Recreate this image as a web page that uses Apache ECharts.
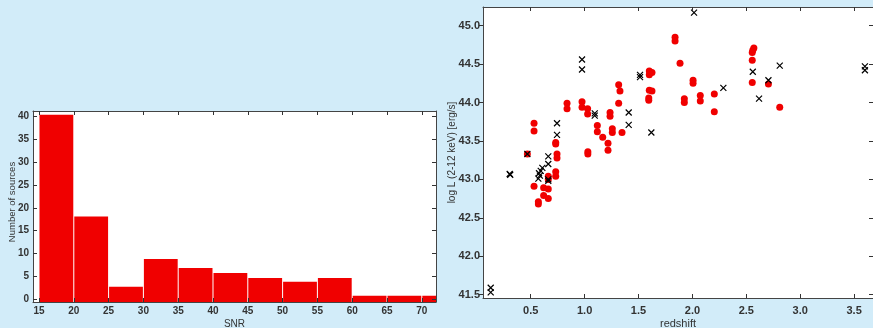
<!DOCTYPE html>
<html>
<head>
<meta charset="utf-8">
<script src="https://cdn.jsdelivr.net/npm/echarts@6/dist/echarts.min.js"></script>
<style>
  html, body { margin: 0; padding: 0; background: #d2ecf9; }
  #chart { width: 873px; height: 328px; }
</style>
</head>
<body>
<div id="chart"></div>
<script>
// histogram: SNR bins of width 5
const snrBinStart = [15, 20, 25, 30, 35, 40, 45, 50, 55, 60, 65, 70];
const snrBinWidth = 5;
const snrCounts = [40.4, 18.1, 2.7, 8.8, 6.8, 5.7, 4.6, 3.8, 4.6, 0.7, 0.7, 0.7];
const snrTicks = [15, 20, 25, 30, 35, 40, 45, 50, 55, 60, 65, 70];
const countTicks = [0, 5, 10, 15, 20, 25, 30, 35, 40];

// scatter: redshift vs log L
const redPoints = [
  [0.469, 43.33], [0.531, 43.73], [0.531, 43.63], [0.531, 42.91],
  [0.571, 42.71], [0.571, 42.68], [0.62, 42.89], [0.62, 42.79],
  [0.663, 42.875], [0.663, 42.75], [0.663, 43.04], [0.663, 43.0],
  [0.732, 43.10], [0.732, 43.04], [0.744, 43.33], [0.744, 43.28],
  [0.732, 43.48], [0.732, 43.46], [0.837, 43.99], [0.837, 43.92],
  [0.976, 44.01], [0.976, 43.94], [1.028, 43.92], [1.028, 43.85],
  [1.03, 43.36], [1.03, 43.33], [1.118, 43.70], [1.118, 43.62],
  [1.168, 43.55], [1.236, 43.87], [1.236, 43.82], [1.217, 43.47],
  [1.217, 43.38], [1.257, 43.66], [1.257, 43.61], [1.316, 44.23],
  [1.328, 44.15], [1.316, 43.99], [1.347, 43.61], [1.60, 44.41],
  [1.625, 44.39], [1.60, 44.36], [1.60, 44.16], [1.625, 44.15],
  [1.595, 44.06], [1.595, 44.03], [1.839, 44.85], [1.839, 44.80],
  [1.885, 44.51], [2.006, 44.29], [2.006, 44.25], [1.925, 44.05],
  [1.925, 44.0], [2.073, 44.09], [2.073, 44.02], [2.203, 44.11],
  [2.203, 43.88], [2.57, 44.71], [2.56, 44.68], [2.555, 44.65],
  [2.555, 44.55], [2.555, 44.26], [2.705, 44.24], [2.81, 43.94]
];
const crossPoints = [
  [0.129, 41.59], [0.129, 41.53], [0.305, 43.07], [0.31, 43.06],
  [0.469, 43.33], [0.571, 43.01], [0.577, 43.08], [0.593, 43.11],
  [0.608, 43.15], [0.585, 43.05], [0.663, 43.30], [0.663, 43.20],
  [0.663, 43.0], [0.663, 42.98], [0.744, 43.73], [0.744, 43.58],
  [0.976, 44.56], [0.976, 44.43], [1.094, 43.86], [1.094, 43.83],
  [1.409, 43.87], [1.409, 43.71], [1.514, 44.36], [1.514, 44.33],
  [1.619, 43.61], [2.015, 45.17], [2.287, 44.19], [2.56, 44.40],
  [2.618, 44.05], [2.705, 44.29], [2.81, 44.48], [3.60, 44.47],
  [3.60, 44.42]
];
const zTicks = [0.5, 1.0, 1.5, 2.0, 2.5, 3.0, 3.5];
const lumTicks = [41.5, 42.0, 42.5, 43.0, 43.5, 44.0, 44.5, 45.0];

const RED = "#f00000";
const FRAME = "#444";
const TXT = "#333";
const FONT = "Liberation Sans";

const histYMin = -0.66;

const labelStyle = {
  color: TXT,
  fontFamily: FONT,
  fontSize: 10,
  fontWeight: "bold"
};

function frameAxis(extra) {
  return Object.assign({
    type: "value",
    splitLine: {show: false},
    nameMoveOverlap: false,
    axisLine: {show: true, onZero: false, lineStyle: {color: FRAME, width: 1}},
    nameTextStyle: {color: TXT, fontFamily: FONT, fontSize: 10}
  }, extra);
}

const chart = echarts.init(document.getElementById("chart"));

chart.setOption({
  backgroundColor: "#d2ecf9",
  animation: false,
  grid: [
    {left: 33, top: 111, width: 403, height: 191, outerBoundsMode: "none",
      backgroundColor: "#fff", show: true, borderWidth: 0},
    {left: 483, top: 7, width: 390, height: 291, outerBoundsMode: "none",
      backgroundColor: "#fff", show: true, borderWidth: 0}
  ],
  xAxis: [
    frameAxis({
      gridIndex: 0, position: "bottom", min: 14.14, max: 72.04, z: 10,
      name: "SNR", nameLocation: "middle", nameGap: 17,
      axisTick: {inside: true, length: 4, customValues: snrTicks, lineStyle: {color: TXT}},
      axisLabel: Object.assign({customValues: snrTicks, margin: 4}, labelStyle)
    }),
    frameAxis({
      gridIndex: 0, position: "top", min: 14.14, max: 72.04, z: 10,
      axisTick: {inside: true, length: 4, customValues: snrTicks, lineStyle: {color: TXT}},
      axisLabel: {show: false}
    }),
    frameAxis({
      gridIndex: 1, position: "bottom", min: 0.0575, max: 3.675, z: 10,
      name: "redshift", nameLocation: "middle", nameGap: 20,
      nameTextStyle: {color: TXT, fontFamily: FONT, fontSize: 11},
      axisTick: {inside: true, length: 4, customValues: zTicks, lineStyle: {color: TXT}},
      axisLabel: Object.assign({customValues: zTicks, margin: 7,
        formatter: v => v.toFixed(1)}, labelStyle, {fontSize: 11})
    }),
    frameAxis({
      gridIndex: 1, position: "top", min: 0.0575, max: 3.675, z: 10,
      axisTick: {inside: true, length: 4, customValues: zTicks, lineStyle: {color: TXT}},
      axisLabel: {show: false}
    })
  ],
  yAxis: [
    frameAxis({
      gridIndex: 0, position: "left", min: histYMin, max: 41.25, z: 10,
      name: "Number of sources", nameLocation: "middle", nameGap: 16,
      nameTextStyle: {color: TXT, fontFamily: FONT, fontSize: 9.5, padding: [0, 0, 0, 9]},
      axisTick: {inside: true, length: 4, customValues: countTicks, lineStyle: {color: TXT}},
      axisLabel: Object.assign({customValues: countTicks, margin: 4}, labelStyle)
    }),
    frameAxis({
      gridIndex: 0, position: "right", min: histYMin, max: 41.25, z: 10,
      axisTick: {inside: true, length: 4, customValues: countTicks, lineStyle: {color: TXT}},
      axisLabel: {show: false}
    }),
    frameAxis({
      gridIndex: 1, position: "left", min: 41.457, max: 45.243, z: 10,
      name: "log L (2-12 keV) [erg/s]", nameLocation: "middle", nameGap: 26,
      axisTick: {inside: false, length: 4, customValues: lumTicks, lineStyle: {color: TXT}},
      axisLabel: Object.assign({customValues: lumTicks, margin: 3,
        formatter: v => v.toFixed(1)}, labelStyle, {fontSize: 11})
    }),
    frameAxis({
      gridIndex: 1, position: "right", min: 41.457, max: 45.243, z: 10,
      axisTick: {inside: true, length: 4, customValues: lumTicks, lineStyle: {color: TXT}},
      axisLabel: {show: false}
    })
  ],
  series: [
    {
      type: "custom",
      xAxisIndex: 0,
      yAxisIndex: 0,
      clip: true,
      data: snrBinStart.map((s, i) => [s, s + snrBinWidth, snrCounts[i]]),
      renderItem: function (params, api) {
        const top = api.coord([api.value(0), api.value(2)]);
        const bottom = api.coord([api.value(1), histYMin]);
        return {
          type: "rect",
          shape: {
            x: top[0] + 0.5,
            y: top[1],
            width: bottom[0] - top[0] - 1,
            height: bottom[1] - top[1]
          },
          style: {fill: RED}
        };
      }
    },
    {
      type: "scatter",
      xAxisIndex: 2,
      yAxisIndex: 2,
      symbol: "circle",
      symbolSize: 7,
      itemStyle: {color: RED, opacity: 1},
      data: redPoints
    },
    {
      type: "scatter",
      xAxisIndex: 2,
      yAxisIndex: 2,
      symbol: "path://M0,0L10,10M10,0L0,10",
      symbolSize: 6,
      itemStyle: {color: "none", borderColor: "#000", borderWidth: 1.2, opacity: 1},
      data: crossPoints
    }
  ]
});
</script>
</body>
</html>
